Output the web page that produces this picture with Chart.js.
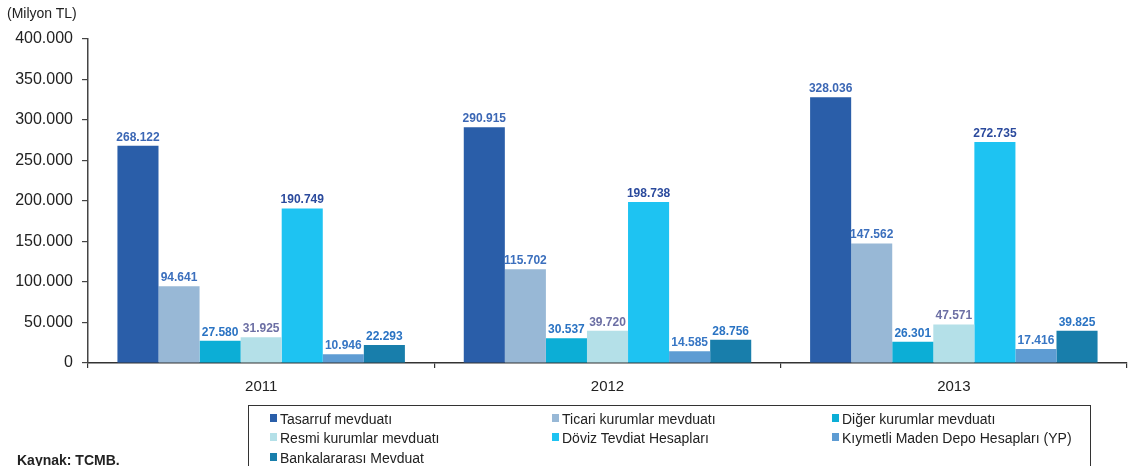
<!DOCTYPE html>
<html>
<head>
<meta charset="utf-8">
<script src="https://cdn.jsdelivr.net/npm/chart.js@4"></script>
<style>
  html, body { margin:0; padding:0; background:#fff; }
  body { width:1128px; height:466px; position:relative; overflow:hidden; font-family:"Liberation Sans", Arial, sans-serif; }
  #wrap { position:absolute; left:0; top:0; width:1128px; height:466px; }
  #unit { position:absolute; left:7px; top:5px; font-size:14px; color:#222; }
  #src { position:absolute; left:17px; top:452px; font-size:14px; font-weight:bold; color:#222; }
  #legend { position:absolute; left:248px; top:405px; width:843px; height:80px; border:1px solid #333; box-sizing:border-box; }
  .li { position:absolute; font-size:14px; color:#222; white-space:nowrap; line-height:16px; }
  .li i { position:absolute; left:-10px; top:3px; width:7px; height:8px; }
</style>
</head>
<body>
<div id="wrap"><canvas id="c" width="1128" height="466"></canvas></div>
<div id="unit">(Milyon TL)</div>
<div id="src">Kaynak: TCMB.</div>
<div id="legend"></div>
<script>
const categories = ["2011", "2012", "2013"];
const seriesNames = [
  "Tasarruf mevduatı",
  "Ticari kurumlar mevduatı",
  "Diğer kurumlar mevduatı",
  "Resmi kurumlar mevduatı",
  "Döviz Tevdiat Hesapları",
  "Kıymetli Maden Depo Hesapları (YP)",
  "Bankalararası Mevduat"
];
const tasarruf = [268122, 290915, 328036];
const ticari = [94641, 115702, 147562];
const diger = [27580, 30537, 26301];
const resmi = [31925, 39720, 47571];
const doviz = [190749, 198738, 272735];
const kiymetli = [10946, 14585, 17416];
const bankalar = [22293, 28756, 39825];
const yTicks = [0, 50000, 100000, 150000, 200000, 250000, 300000, 350000, 400000];

const barColors = ["#2a5ea9", "#98b8d6", "#0caed6", "#b4e0e8", "#1ec3f2", "#5e9cd3", "#187eab"];
const labelColors = ["#3b67b5", "#3b6fbd", "#2a73c3", "#6c6fa4", "#2b4a9d", "#3776c4", "#2a73c3"];
const seriesValues = [tasarruf, ticari, diger, resmi, doviz, kiymetli, bankalar];

function fmt(v) { return String(v).replace(/\B(?=(\d{3})+(?!\d))/g, "."); }

const valueLabels = {
  id: "valueLabels",
  afterDatasetsDraw(chart) {
    const ctx = chart.ctx;
    ctx.save();
    ctx.font = "bold 12px 'Liberation Sans', Arial, sans-serif";
    ctx.textAlign = "center";
    ctx.textBaseline = "alphabetic";
    chart.data.datasets.forEach((ds, i) => {
      const meta = chart.getDatasetMeta(i);
      ctx.fillStyle = labelColors[i];
      meta.data.forEach((bar, j) => {
        ctx.fillText(fmt(ds.data[j]), bar.x, bar.y - 5);
      });
    });
    ctx.restore();
  }
};

const chart = new Chart(document.getElementById("c"), {
  type: "bar",
  data: {
    labels: categories,
    datasets: seriesNames.map((n, i) => ({
      label: n,
      data: seriesValues[i],
      backgroundColor: barColors[i],
      borderWidth: 0,
      barPercentage: 1,
      categoryPercentage: 0.83
    }))
  },
  options: {
    responsive: false,
    animation: false,
    devicePixelRatio: 1,
    layout: { padding: { left: 0, right: 1, top: 39, bottom: 0 } },
    plugins: { legend: { display: false }, tooltip: { enabled: false } },
    scales: {
      x: {
        grid: { drawOnChartArea: false, drawTicks: true, tickLength: 5, color: "#333", lineWidth: 1.2, offset: true },
        border: { display: true, color: "#333", width: 1.5 },
        ticks: { color: "#222", font: { family: "'Liberation Sans', Arial, sans-serif", size: 15 }, padding: 10 },
        afterFit(s) { s.height = 103; }
      },
      y: {
        min: 0, max: 400000,
        afterBuildTicks(s) { s.ticks = yTicks.map(v => ({ value: v })); },
        grid: { drawOnChartArea: false, drawTicks: true, tickLength: 6, color: "#444", lineWidth: 1.2 },
        border: { display: true, color: "#444", width: 1.5 },
        ticks: {
          color: "#222", padding: 9,
          font: { family: "'Liberation Sans', Arial, sans-serif", size: 16 },
          callback: v => fmt(v)
        },
        afterFit(s) { s.width = 88; }
      }
    }
  },
  plugins: [valueLabels]
});

// HTML legend built from chart datasets
const leg = document.getElementById("legend");
const colX = [31, 313, 593];
const rowY = [5, 24, 44];
chart.data.datasets.forEach((ds, i) => {
  const d = document.createElement("div");
  d.className = "li";
  d.style.left = colX[i % 3] + "px";
  d.style.top = rowY[Math.floor(i / 3)] + "px";
  const m = document.createElement("i");
  m.style.background = ds.backgroundColor;
  d.appendChild(m);
  d.appendChild(document.createTextNode(ds.label));
  leg.appendChild(d);
});
</script>
</body>
</html>
